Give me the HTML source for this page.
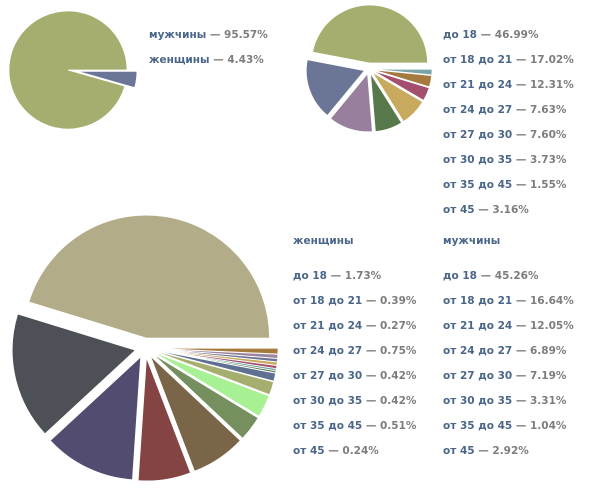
<!DOCTYPE html>
<html><head><meta charset="utf-8"><style>
body{margin:0;background:#fff;width:603px;height:491px;overflow:hidden}
svg text{font-family:"DejaVu Sans","Liberation Sans",sans-serif;font-size:10.5px;font-weight:bold}
.l{fill:#4a6689}.v{fill:#7d7d7d}
</style></head><body>
<svg id="s" width="603" height="491" xmlns="http://www.w3.org/2000/svg">
<text x="149" y="38"><tspan class="l">мужчины</tspan><tspan class="v"> — 95.57%</tspan></text>
<text x="149" y="63"><tspan class="l">женщины</tspan><tspan class="v"> — 4.43%</tspan></text>
</svg>
<script>
var s=document.getElementById('s'),NS='http://www.w3.org/2000/svg';
function txt(x,y,a,b){var t=document.createElementNS(NS,'text');t.setAttribute('x',x);t.setAttribute('y',y);
var p=document.createElementNS(NS,'tspan');p.setAttribute('class','l');p.textContent=a;t.appendChild(p);
if(b){var q=document.createElementNS(NS,'tspan');q.setAttribute('class','v');q.textContent=' — '+b;t.appendChild(q);}s.appendChild(t);}
function pie(cx,cy,r,data){var a=0,tot=0;data.forEach(function(d){tot+=d[0]});
data.forEach(function(d){var sw=d[0]/tot*2*Math.PI,a0=a,a1=a+sw;a=a1;var m=(a0+a1)/2,e=d[2]||0;
var x=cx+Math.cos(m)*e,y=cy+Math.sin(m)*e;
var p=document.createElementNS(NS,'path');
p.setAttribute('d','M'+x+','+y+'L'+(x+r*Math.cos(a0))+','+(y+r*Math.sin(a0))+'A'+r+','+r+' 0 '+(sw>Math.PI?1:0)+' 1 '+(x+r*Math.cos(a1))+','+(y+r*Math.sin(a1))+'Z');
p.setAttribute('fill',d[1]);p.setAttribute('stroke','#fff');p.setAttribute('stroke-width','0.7');s.appendChild(p);});}
pie(68,70,59,[[4.43,'#6b7595',10],[95.57,'#a6ae6f',0]]);
pie(369,69,58,[[1.55,'#7aa5a5',5],[3.16,'#a5793f',5],[3.73,'#a34f6d',5],[7.60,'#c7aa5e',5],[7.63,'#56784b',5],[12.31,'#977f9d',5],[17.02,'#6b7595',5],[46.99,'#a6ae6f',6]]);
pie(145,348,123,[[0.75,'#a57b3d',10],[0.51,'#9b849d',10],[0.42,'#6b7595',10],[0.42,'#c7aa5e',10],[0.39,'#a34f6d',10],[0.27,'#6fa1a1',10],[0.24,'#4f7a45',10],[1.04,'#5f7090',10],[1.73,'#a6ae6f',10],[2.92,'#a8f094',10],[3.31,'#75905e',10],[7.19,'#7a6548',10],[6.89,'#844444',10],[12.05,'#524d70',10],[16.64,'#4d5057',10],[45.26,'#b2ad88',10]]);
var a=[['до 18','46.99%'],['от 18 до 21','17.02%'],['от 21 до 24','12.31%'],['от 24 до 27','7.63%'],['от 27 до 30','7.60%'],['от 30 до 35','3.73%'],['от 35 до 45','1.55%'],['от 45','3.16%']];
a.forEach(function(d,i){txt(443,38+25*i,d[0],d[1])});
txt(293,244,'женщины');txt(443,244,'мужчины');
var w=['1.73%','0.39%','0.27%','0.75%','0.42%','0.42%','0.51%','0.24%'],m=['45.26%','16.64%','12.05%','6.89%','7.19%','3.31%','1.04%','2.92%'];
a.forEach(function(d,i){txt(293,279+25*i,d[0],w[i]);txt(443,279+25*i,d[0],m[i])});
</script>
</body></html>
